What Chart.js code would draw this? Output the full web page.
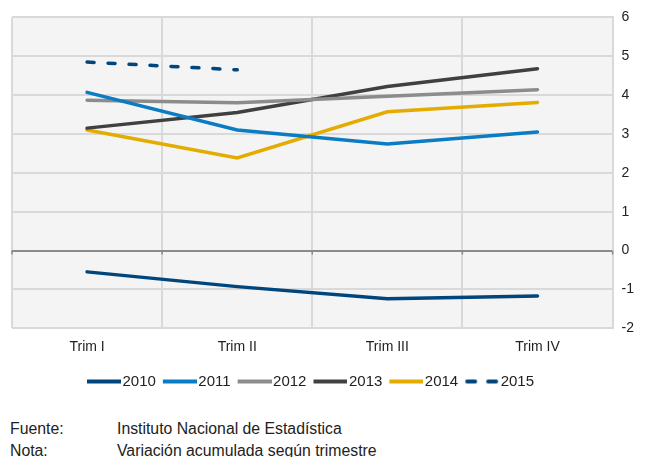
<!DOCTYPE html>
<html>
<head>
<meta charset="utf-8">
<script src="https://cdn.jsdelivr.net/npm/chart.js@4/dist/chart.umd.min.js"></script>
<style>
  body { margin: 0; background: #fff; font-family: "Liberation Sans", Arial, sans-serif; }
  #wrap { position: relative; width: 647px; height: 457px; }
  #chart { position: absolute; left: 0; top: 0; }
  .note { position: absolute; font-size: 15.8px; line-height: 18px; color: #222; white-space: nowrap; }
</style>
</head>
<body>
<div id="wrap">
  <canvas id="chart" width="647" height="399"></canvas>
  <div class="note" style="left:10px; top:420px;">Fuente:</div>
  <div class="note" style="left:117px; top:420px;">Instituto Nacional de Estadística</div>
  <div class="note" style="left:10px; top:442px;">Nota:</div>
  <div class="note" style="left:117px; top:442px;">Variación acumulada según trimestre</div>
</div>
<script>
// =============================
// DATA
// =============================
const quarters = ["Trim I", "Trim II", "Trim III", "Trim IV"];
const y2010 = [-0.55, -0.93, -1.24, -1.17];
const y2011 = [4.07, 3.10, 2.74, 3.05];
const y2012 = [3.87, 3.80, 3.97, 4.14];
const y2013 = [3.15, 3.55, 4.22, 4.68];
const y2014 = [3.10, 2.38, 3.57, 3.81];
const y2015 = [4.85, 4.65, null, null];
const yTicks = [-2, -1, 0, 1, 2, 3, 4, 5, 6];

function series(label, data, color, dash) {
  return {
    label: label,
    data: data,
    borderColor: color,
    backgroundColor: color,
    borderWidth: 3.5,
    borderDash: dash || [],
    borderCapStyle: "round",
    pointRadius: 0,
    tension: 0,
    spanGaps: false
  };
}

// legend swatch: a line image a bit wider than the box so it meets the text
const BOX = 28, LINE = 34;
function swatch(color, dashed) {
  const c = document.createElement("canvas");
  c.width = 2 * (LINE - BOX / 2);
  c.height = 8;
  const g = c.getContext("2d");
  g.strokeStyle = color;
  g.lineWidth = 4;
  g.lineCap = dashed ? "round" : "butt";
  if (dashed) g.setLineDash([8, 13]);
  g.beginPath();
  const x0 = c.width - LINE + (dashed ? 2 : 0);
  g.moveTo(x0, 4);
  g.lineTo(c.width - (dashed ? 2 : 0), 4);
  g.stroke();
  return c;
}

// plot background + small ticks on the zero line
const plotBg = {
  id: "plotBg",
  afterLayout(chart) {
    // legend sits a little left of centre in the original
    chart.legend.left -= 17;
    chart.legend.right -= 17;
  },
  beforeDraw(chart) {
    const { ctx, chartArea: a } = chart;
    ctx.save();
    ctx.fillStyle = "#f4f4f4";
    ctx.fillRect(a.left, a.top, a.right - a.left, a.bottom - a.top);
    ctx.restore();
  },
  afterDatasetsDraw(chart) {
    const { ctx, chartArea: a, scales } = chart;
    const y0 = scales.y.getPixelForValue(0);
    const xs = [a.left];
    for (let i = 0; i < quarters.length - 1; i++) {
      xs.push((scales.x.getPixelForValue(i) + scales.x.getPixelForValue(i + 1)) / 2);
    }
    xs.push(a.right);
    ctx.save();
    ctx.strokeStyle = "#8a8a8a";
    ctx.lineWidth = 1.5;
    xs.forEach(x => {
      ctx.beginPath();
      ctx.moveTo(x, y0);
      ctx.lineTo(x, y0 + 4);
      ctx.stroke();
    });
    ctx.restore();
  }
};

Chart.defaults.font.family = '"Liberation Sans", Arial, sans-serif';
Chart.defaults.color = "#222";

new Chart(document.getElementById("chart").getContext("2d"), {
  type: "line",
  data: {
    labels: quarters,
    datasets: [
      series("2010", y2010, "#00457c"),
      series("2011", y2011, "#0a7cc4"),
      series("2012", y2012, "#8c8c8c"),
      series("2013", y2013, "#404040"),
      series("2014", y2014, "#e4ac00"),
      series("2015", y2015, "#00457c", [7, 14])
    ]
  },
  options: {
    responsive: false,
    animation: false,
    layout: { padding: { left: 12, right: 4, top: 15, bottom: 0 } },
    plugins: {
      tooltip: { enabled: false },
      legend: {
        position: "bottom",
        labels: {
          font: { size: 15 },
          color: "#222",
          usePointStyle: true,
          pointStyleWidth: BOX,
          padding: 7,
          generateLabels(chart) {
            return chart.data.datasets.map((ds, i) => ({
              text: ds.label,
              datasetIndex: i,
              pointStyle: swatch(ds.borderColor, ds.borderDash.length > 0),
              strokeStyle: ds.borderColor,
              fillStyle: ds.borderColor,
              lineWidth: 0,
              fontColor: "#222",
              hidden: false
            }));
          }
        }
      }
    },
    scales: {
      x: {
        offset: true,
        grid: { offset: true, color: "#d9d9d9", lineWidth: 2, drawTicks: false },
        border: { display: false },
        ticks: { font: { size: 14 }, color: "#222", padding: 11, maxRotation: 0 }
      },
      y: {
        position: "right",
        min: yTicks[0],
        max: yTicks[yTicks.length - 1],
        afterBuildTicks(scale) { scale.ticks = yTicks.map(v => ({ value: v })); },
        grid: {
          color: c => (c.tick && c.tick.value === 0 ? "#8a8a8a" : "#d9d9d9"),
          lineWidth: 2,
          drawTicks: false
        },
        border: { display: true, color: "#d9d9d9", width: 2 },
        ticks: { font: { size: 14 }, color: "#222", padding: 9 }
      }
    }
  },
  plugins: [plotBg]
});
</script>
</body>
</html>
